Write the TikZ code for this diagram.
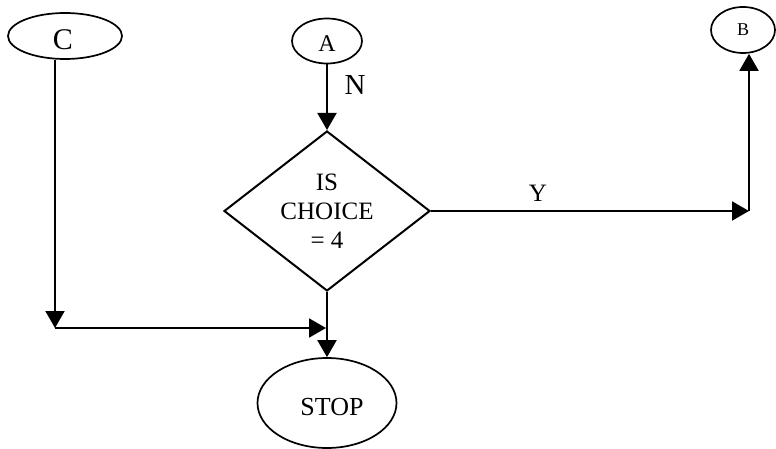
\documentclass[tikz,border=0pt]{standalone}
\usepackage{fontspec}
\setmainfont{Liberation Serif}
\usetikzlibrary{shapes.geometric,arrows.meta}
\tikzset{
  oval/.style={draw,ellipse,line width=1.7pt,inner sep=0pt},
  decision/.style={draw,diamond,line width=2pt,inner sep=0pt,aspect=1.29,
    minimum width=206pt,minimum height=160pt,align=center,
    font=\fontsize{25}{29}\selectfont},
  arr/.style={line width=2pt,-{Triangle[length=17pt,width=19pt]}},
  lbl/.style={inner sep=0pt}
}
\newcommand{\lowerby}[2]{\raisebox{-#1}[\height][\depth]{#2}}
\begin{document}
\begin{tikzpicture}[x=1pt,y=-1pt]
\useasboundingbox (0,0) rectangle (776,449);
\node[oval,minimum width=114pt,minimum height=46pt,font=\fontsize{30}{32}\selectfont] (C) at (65,36) {\lowerby{4pt}{C}\hspace*{4pt}};
\node[oval,minimum width=70pt,minimum height=45pt,font=\fontsize{24}{26}\selectfont] (A) at (327,41) {\lowerby{3pt}{A}};
\node[oval,minimum width=64pt,minimum height=46pt,font=\fontsize{18}{20}\selectfont] (B) at (743,30) {B};
\node[decision] (D) at (327,211) {IS\\CHOICE\\= 4};
\node[oval,minimum width=139pt,minimum height=90pt,font=\fontsize{26}{28}\selectfont] (S) at (327,403) {\hspace*{10pt}\lowerby{4pt}{STOP}};
\node[lbl,font=\fontsize{29}{30}\selectfont] (N) at (355,85) {N};
\node[lbl,font=\fontsize{25}{28}\selectfont] (Y) at (538,193) {Y};
\coordinate (cB) at (749,211);
\coordinate (cC) at (55,328);
\coordinate (cJ) at (326,328);
\draw[arr] (A.south) -- (D.north);
\draw[arr] (D.east) -- (cB);
\draw[arr] (cB) -- (B.south -| cB);
\draw[arr] (C.south -| cC) -- (cC);
\draw[arr] (cC) -- (cJ);
\draw[arr] (D.south) -- (S.north);
\end{tikzpicture}
\end{document}
